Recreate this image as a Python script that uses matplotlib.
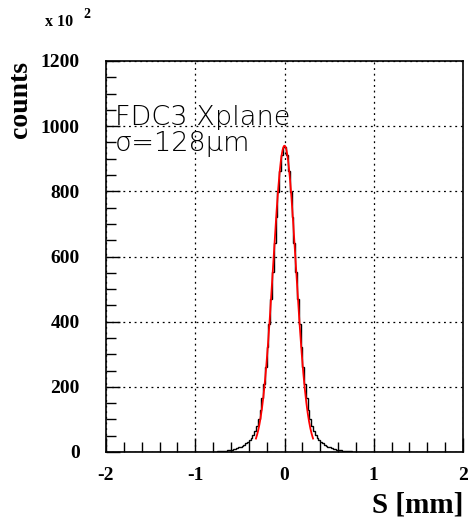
import numpy as np
import matplotlib
matplotlib.use("Agg")
import matplotlib.pyplot as plt
from matplotlib.ticker import MultipleLocator

plt.rcParams["axes.unicode_minus"] = False

# ---- data (units: x10^2 counts) ----
bin_width = 0.02
x_lo, x_hi = -2.0, 2.0
# bin contents for bins from -0.80 to 0.00 (centres -0.79 ... -0.01), mirrored
half_counts = [1.1, 1.4, 1.8, 2.2, 2.7, 3.2, 3.8, 4.5, 5.5, 6.5,
               7.5, 8.5, 10, 12, 14, 16.5, 19.5, 23, 27, 31,
               37, 43, 52, 63, 79, 100, 128, 165, 208, 260,
               322, 392, 470, 553, 640, 722, 797, 862, 910, 935]
core_start = -0.80
# Gaussian fit parameters shown by the fit curve
fit_const = 940.0
fit_mean = 0.0
fit_sigma = 0.128
fit_range = (-0.32, 0.32)
label_line1 = "FDC3 Xplane"
label_line2 = "σ=128μm"

# ---- build histogram ----
edges = np.round(np.arange(x_lo, x_hi + bin_width / 2, bin_width), 6)
counts = np.zeros(len(edges) - 1)
core = np.array(half_counts + half_counts[::-1])
i0 = int(round((core_start - x_lo) / bin_width))
counts[i0:i0 + len(core)] = core

fig = plt.figure(figsize=(4.72, 5.22), dpi=100)
ax = fig.add_axes([106 / 472, 70 / 522, 357 / 472, 391 / 522])

ax.stairs(counts, edges, color="black", lw=1.0, zorder=3)

xf = np.linspace(fit_range[0], fit_range[1], 300)
yf = fit_const * np.exp(-0.5 * ((xf - fit_mean) / fit_sigma) ** 2)
ax.plot(xf, yf, color="red", lw=1.3, zorder=4)

ax.set_xlim(x_lo, x_hi)
ax.set_ylim(0, 1200)
ax.xaxis.set_major_locator(MultipleLocator(1))
ax.xaxis.set_minor_locator(MultipleLocator(0.2))
ax.yaxis.set_major_locator(MultipleLocator(200))
ax.yaxis.set_minor_locator(MultipleLocator(50))
ax.tick_params(which="both", direction="in", top=False, right=False, width=1)
ax.tick_params(which="major", length=10)
ax.tick_params(axis="y", which="major", pad=19)
ax.tick_params(axis="x", which="major", pad=11)
ax.tick_params(which="minor", length=7)
ax.grid(True, which="major", color="black", ls=(0, (1.5, 3)), lw=0.9)
for s in ax.spines.values():
    s.set_linewidth(1.2)

serif = {"family": "Liberation Serif", "weight": "bold"}
for lab in ax.get_xticklabels() + ax.get_yticklabels():
    lab.set_fontfamily("Liberation Serif")
    lab.set_fontweight("bold")
    lab.set_fontsize(14)

fig.text(463 / 472, 1 - 512 / 522, "S [mm]", ha="right", va="baseline",
         fontsize=21, **serif)
fig.text(20 / 472, 1 - 61 / 522, "counts", ha="center", va="top",
         rotation=90, fontsize=20, **serif)
fig.text(45 / 472, 1 - 26 / 522, "x 10", ha="left", va="baseline",
         fontsize=11.5, **serif)
fig.text(83 / 472, 1 - 18 / 522, "2", ha="left", va="baseline",
         fontsize=10, **serif)

thin = {"family": "DejaVu Sans", "weight": "light"}
ax.text(-1.90, 1003, label_line1, ha="left", va="baseline", fontsize=19.5,
        color="black", **thin)
ax.text(-1.90, 925, label_line2, ha="left", va="baseline", fontsize=19.5,
        color="black", **thin)

fig.savefig("out.png", dpi=100)
